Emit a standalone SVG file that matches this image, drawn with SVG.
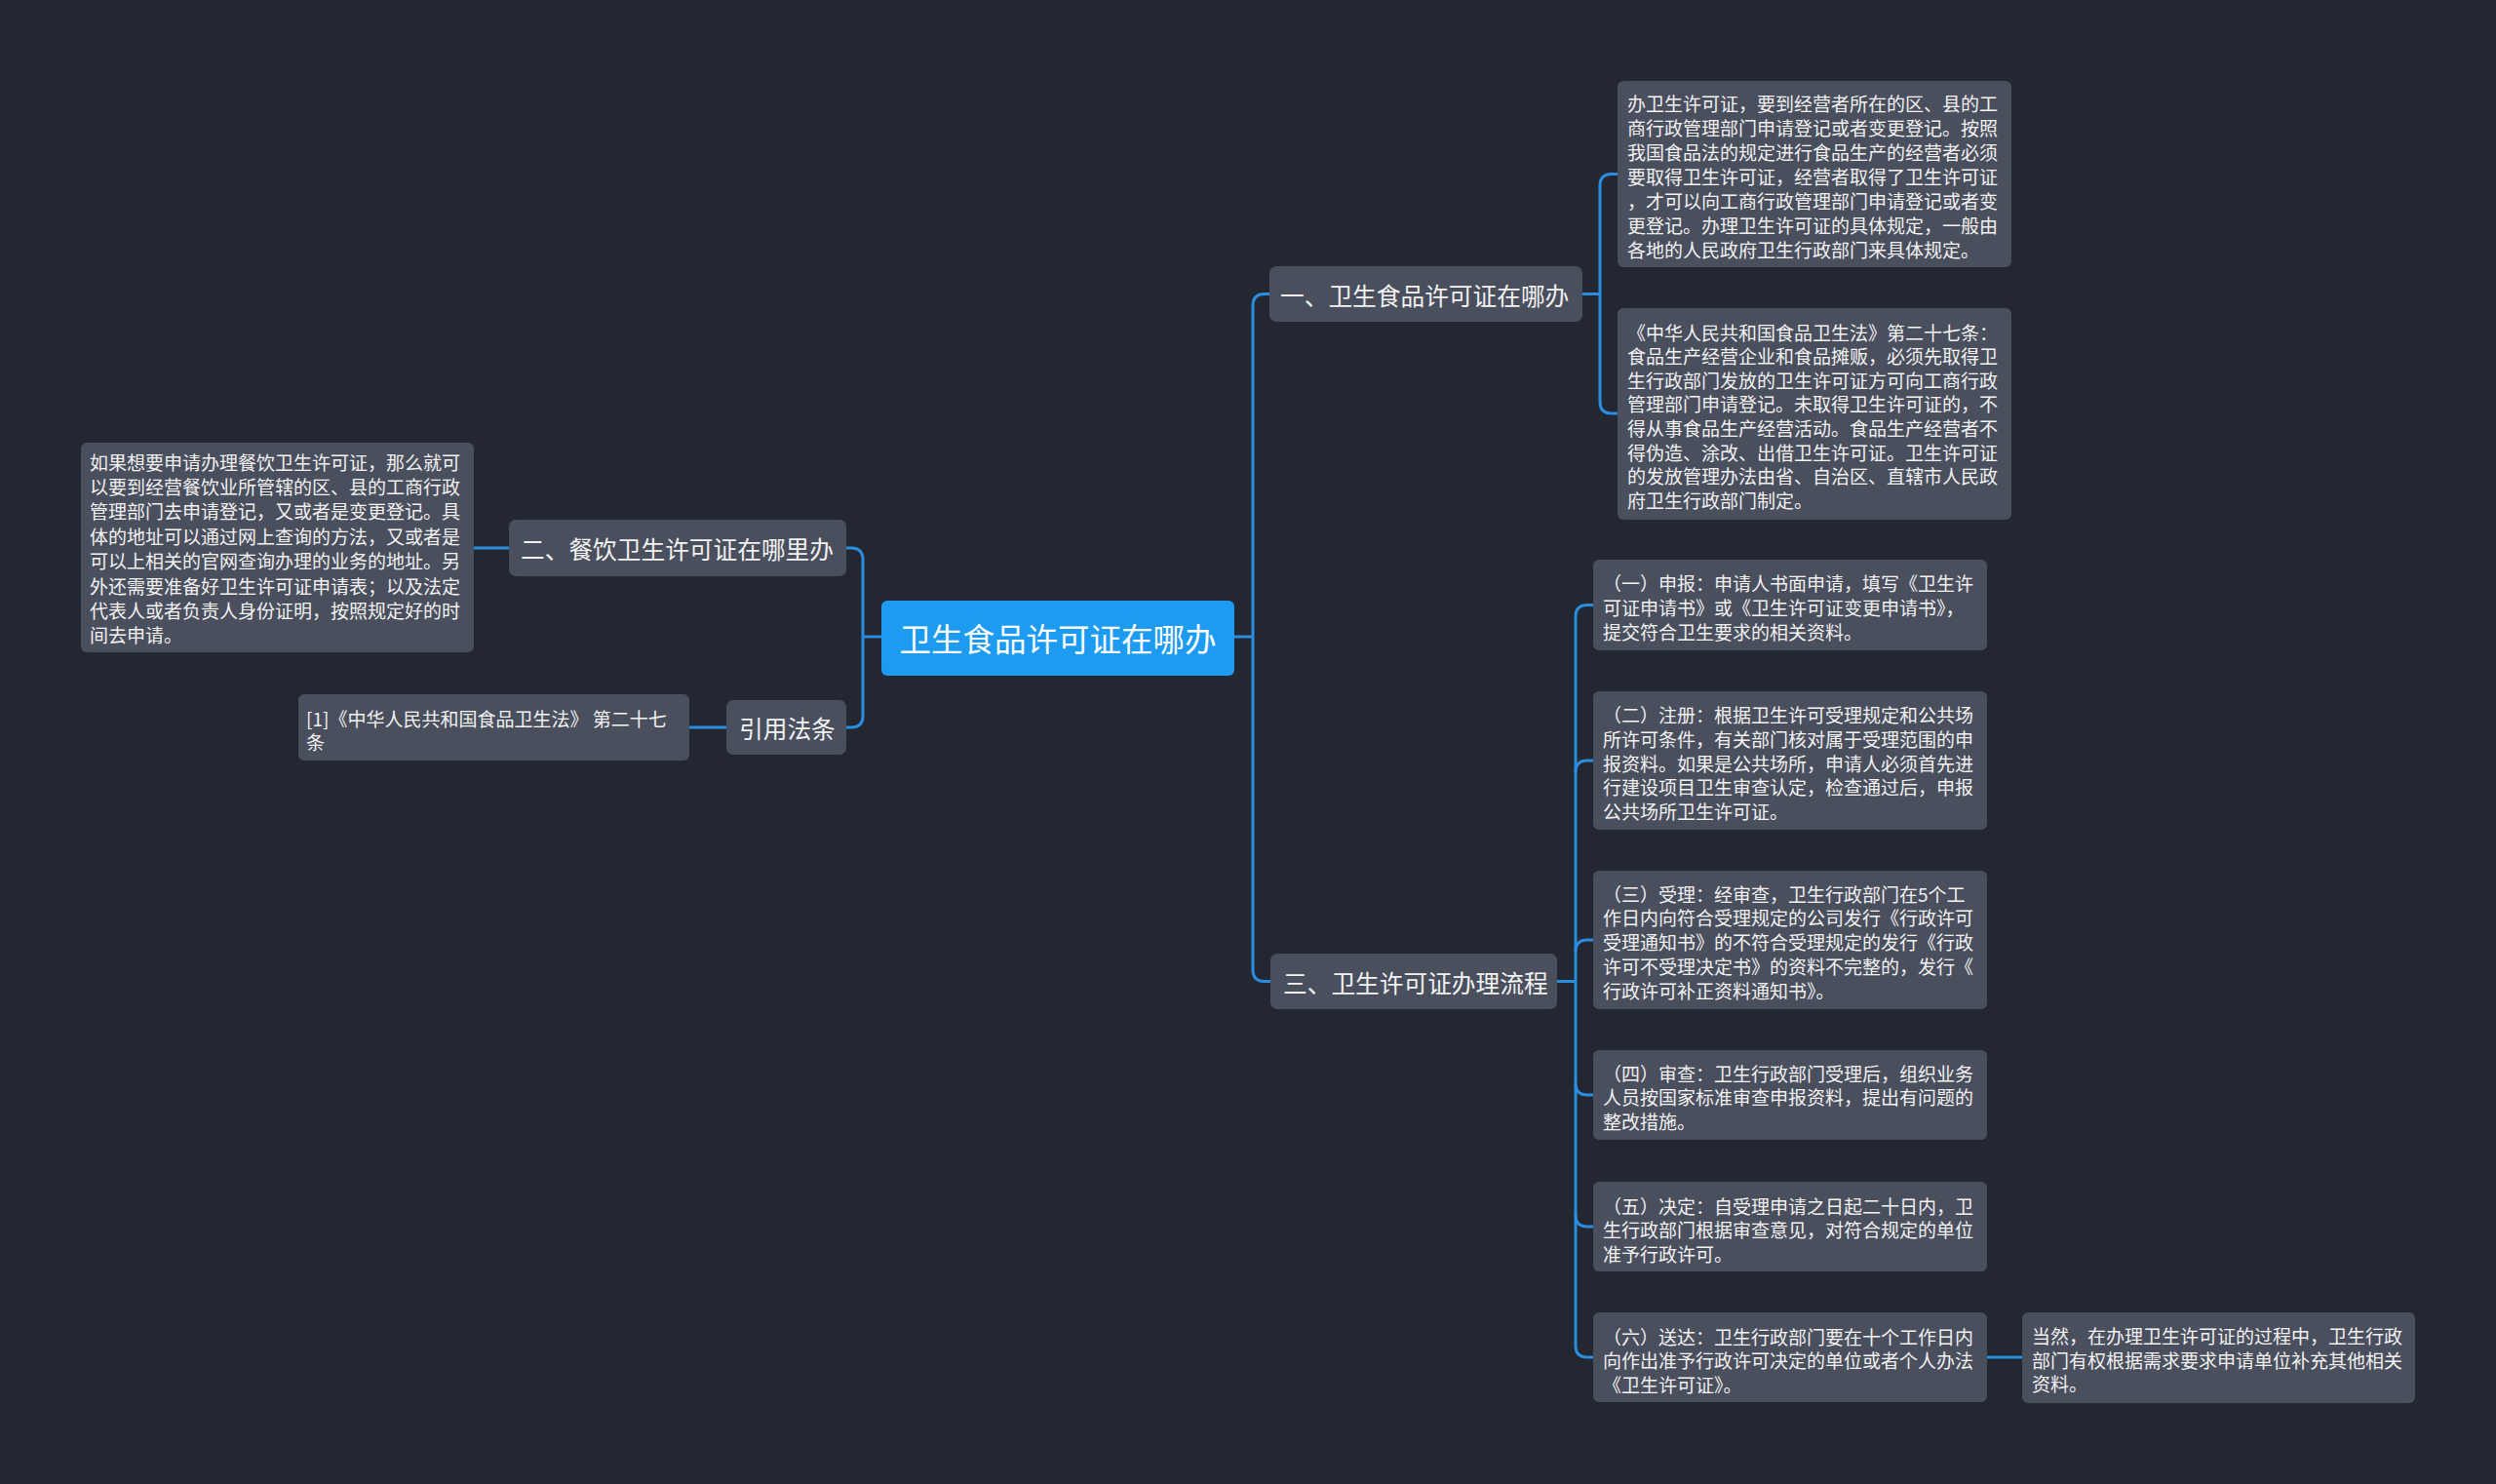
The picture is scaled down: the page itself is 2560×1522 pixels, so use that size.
<svg xmlns="http://www.w3.org/2000/svg" width="2560" height="1522" viewBox="0 0 2560 1522">
<style>
.bg{fill:#232732}
.node{fill:#4a4f5e}
.root{fill:#1c9bf0}
.t{font-family:"Noto Sans CJK SC","Noto Sans",sans-serif;fill:#f2f2f2;dominant-baseline:central}
.d{font-size:19px}
.b{font-size:24.7px}
.r{font-size:32.5px;fill:#ffffff}
.c{fill:none;stroke:#2a8de0;stroke-width:3}
</style>
<rect class="bg" x="0" y="0" width="2560" height="1522"/>
<g id="connectors">
<path class="c" d="M1266,653 H1285"/>
<path class="c" d="M1302,301.5 H1297 Q1285,301.5 1285,313.5 V994.5 Q1285,1006.5 1297,1006.5 H1303"/>
<path class="c" d="M904,653 H885"/>
<path class="c" d="M868,562 H873 Q885,562 885,574 V734 Q885,746 873,746 H868"/>
<path class="c" d="M522,562 H486"/>
<path class="c" d="M745,746 H707"/>
<path class="c" d="M1623,301.5 H1641"/>
<path class="c" d="M1659,178.5 H1653 Q1641,178.5 1641,190.5 V412 Q1641,424 1653,424 H1659"/>
<path class="c" d="M1597,1006.5 H1616"/>
<path class="c" d="M1634,620.5 H1628 Q1616,620.5 1616,632.5 V1380 Q1616,1392 1628,1392 H1634"/>
<path class="c" d="M1616,792 Q1616,780 1628,780 H1634"/>
<path class="c" d="M1616,976 Q1616,964 1628,964 H1634"/>
<path class="c" d="M1616,1111 Q1616,1123 1628,1123 H1634"/>
<path class="c" d="M1616,1246 Q1616,1258 1628,1258 H1634"/>
<path class="c" d="M2038,1392 H2074"/>
</g>
<g id="root">
<rect class="root" x="904" y="616" width="362" height="77" rx="6"/>
<text class="t r" x="1085" y="653" text-anchor="middle">卫生食品许可证在哪办</text>
</g>
<g id="b1">
<rect class="node" x="1302" y="273" width="321" height="57" rx="7"/>
<text class="t b" x="1313" y="302">一、卫生食品许可证在哪办</text>
</g>
<g id="b2">
<rect class="node" x="522" y="533" width="346" height="58" rx="7"/>
<text class="t b" x="534" y="562">二、餐饮卫生许可证在哪里办</text>
</g>
<g id="b3">
<rect class="node" x="1303" y="978" width="294" height="57" rx="7"/>
<text class="t b" x="1316" y="1007">三、卫生许可证办理流程</text>
</g>
<g id="b4">
<rect class="node" x="745" y="718" width="123" height="56" rx="7"/>
<text class="t b" x="758" y="746">引用法条</text>
</g>
<g id="cite">
<rect class="node" x="306" y="712" width="401" height="68" rx="6"/>
<text class="t d" x="314" y="736">[1]《中华人民共和国食品卫生法》 第二十七</text>
<text class="t d" x="314" y="760">条</text>
</g>
<g id="left-detail">
<rect class="node" x="83" y="454" width="403" height="215" rx="6"/>
<text class="t d" x="92" y="473">如果想要申请办理餐饮卫生许可证，那么就可</text>
<text class="t d" x="92" y="498.4">以要到经营餐饮业所管辖的区、县的工商行政</text>
<text class="t d" x="92" y="523.8">管理部门去申请登记，又或者是变更登记。具</text>
<text class="t d" x="92" y="549.2">体的地址可以通过网上查询的方法，又或者是</text>
<text class="t d" x="92" y="574.6">可以上相关的官网查询办理的业务的地址。另</text>
<text class="t d" x="92" y="600">外还需要准备好卫生许可证申请表；以及法定</text>
<text class="t d" x="92" y="625.4">代表人或者负责人身份证明，按照规定好的时</text>
<text class="t d" x="92" y="650.8">间去申请。</text>
</g>
<g id="r1">
<rect class="node" x="1659" y="83" width="404" height="191" rx="6"/>
<text class="t d" x="1669" y="105">办卫生许可证，要到经营者所在的区、县的工</text>
<text class="t d" x="1669" y="130">商行政管理部门申请登记或者变更登记。按照</text>
<text class="t d" x="1669" y="155">我国食品法的规定进行食品生产的经营者必须</text>
<text class="t d" x="1669" y="180">要取得卫生许可证，经营者取得了卫生许可证</text>
<text class="t d" x="1669" y="205">，才可以向工商行政管理部门申请登记或者变</text>
<text class="t d" x="1669" y="230">更登记。办理卫生许可证的具体规定，一般由</text>
<text class="t d" x="1669" y="255">各地的人民政府卫生行政部门来具体规定。</text>
</g>
<g id="r2">
<rect class="node" x="1659" y="316" width="404" height="217" rx="6"/>
<text class="t d" x="1669" y="340">《中华人民共和国食品卫生法》第二十七条：</text>
<text class="t d" x="1669" y="364.6">食品生产经营企业和食品摊贩，必须先取得卫</text>
<text class="t d" x="1669" y="389.2">生行政部门发放的卫生许可证方可向工商行政</text>
<text class="t d" x="1669" y="413.8">管理部门申请登记。未取得卫生许可证的，不</text>
<text class="t d" x="1669" y="438.4">得从事食品生产经营活动。食品生产经营者不</text>
<text class="t d" x="1669" y="463">得伪造、涂改、出借卫生许可证。卫生许可证</text>
<text class="t d" x="1669" y="487.6">的发放管理办法由省、自治区、直辖市人民政</text>
<text class="t d" x="1669" y="512.2">府卫生行政部门制定。</text>
</g>
<g id="s1">
<rect class="node" x="1634" y="574" width="404" height="93" rx="6"/>
<text class="t d" x="1644" y="597">（一）申报：申请人书面申请，填写《卫生许</text>
<text class="t d" x="1644" y="622">可证申请书》或《卫生许可证变更申请书》，</text>
<text class="t d" x="1644" y="647">提交符合卫生要求的相关资料。</text>
</g>
<g id="s2">
<rect class="node" x="1634" y="709" width="404" height="142" rx="6"/>
<text class="t d" x="1644" y="732">（二）注册：根据卫生许可受理规定和公共场</text>
<text class="t d" x="1644" y="757">所许可条件，有关部门核对属于受理范围的申</text>
<text class="t d" x="1644" y="782">报资料。如果是公共场所，申请人必须首先进</text>
<text class="t d" x="1644" y="806">行建设项目卫生审查认定，检查通过后，申报</text>
<text class="t d" x="1644" y="831">公共场所卫生许可证。</text>
</g>
<g id="s3">
<rect class="node" x="1634" y="893" width="404" height="142" rx="6"/>
<text class="t d" x="1644" y="916">（三）受理：经审查，卫生行政部门在5个工</text>
<text class="t d" x="1644" y="940.5">作日内向符合受理规定的公司发行《行政许可</text>
<text class="t d" x="1644" y="965">受理通知书》的不符合受理规定的发行《行政</text>
<text class="t d" x="1644" y="990">许可不受理决定书》的资料不完整的，发行《</text>
<text class="t d" x="1644" y="1015">行政许可补正资料通知书》。</text>
</g>
<g id="s4">
<rect class="node" x="1634" y="1077" width="404" height="92" rx="6"/>
<text class="t d" x="1644" y="1100">（四）审查：卫生行政部门受理后，组织业务</text>
<text class="t d" x="1644" y="1124.5">人员按国家标准审查申报资料，提出有问题的</text>
<text class="t d" x="1644" y="1149">整改措施。</text>
</g>
<g id="s5">
<rect class="node" x="1634" y="1212" width="404" height="92" rx="6"/>
<text class="t d" x="1644" y="1236">（五）决定：自受理申请之日起二十日内，卫</text>
<text class="t d" x="1644" y="1260.5">生行政部门根据审查意见，对符合规定的单位</text>
<text class="t d" x="1644" y="1285">准予行政许可。</text>
</g>
<g id="s6">
<rect class="node" x="1634" y="1346" width="404" height="92" rx="6"/>
<text class="t d" x="1644" y="1370">（六）送达：卫生行政部门要在十个工作日内</text>
<text class="t d" x="1644" y="1394.5">向作出准予行政许可决定的单位或者个人办法</text>
<text class="t d" x="1644" y="1419">《卫生许可证》。</text>
</g>
<g id="s6-note">
<rect class="node" x="2074" y="1346" width="403" height="93" rx="6"/>
<text class="t d" x="2084" y="1369">当然，在办理卫生许可证的过程中，卫生行政</text>
<text class="t d" x="2084" y="1394">部门有权根据需求要求申请单位补充其他相关</text>
<text class="t d" x="2084" y="1418">资料。</text>
</g>
</svg>
